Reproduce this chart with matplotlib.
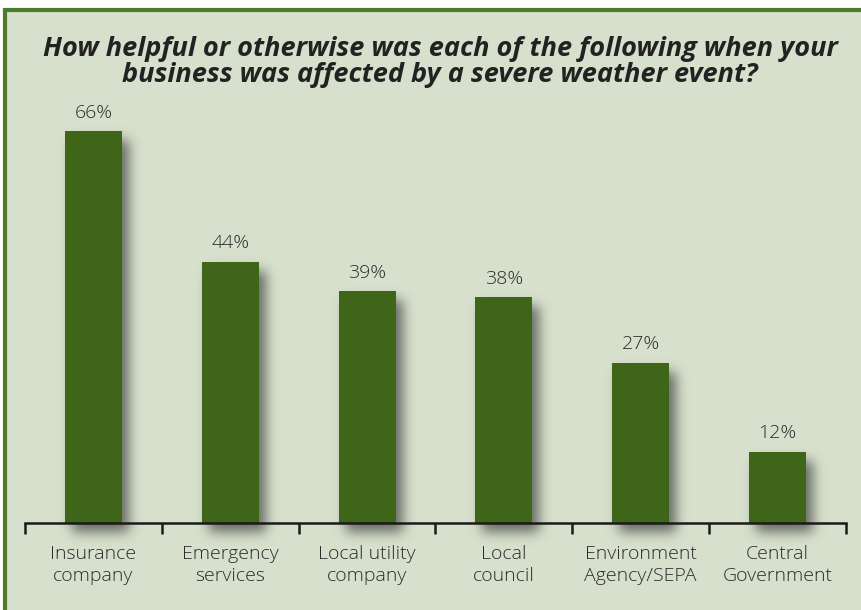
import matplotlib
matplotlib.use("Agg")
import matplotlib.pyplot as plt
from matplotlib.patches import Rectangle
import numpy as np

categories = ["Insurance\ncompany", "Emergency\nservices", "Local utility\ncompany",
              "Local\ncouncil", "Environment\nAgency/SEPA", "Central\nGovernment"]
values = [66, 44, 39, 38, 27, 12]
value_labels = ["66%", "44%", "39%", "38%", "27%", "12%"]
title = "How helpful or otherwise was each of the following when your\nbusiness was affected by a severe weather event?"

W, H = 862, 610
fig = plt.figure(figsize=(W / 100, H / 100), dpi=100, facecolor="white")

bg = "#d7e0cc"
border = "#4e7a2c"
bar_color = "#3f6519"
text_color = "#2b2b2b"

# framed panel
fig.patches.append(Rectangle((5 / W, -0.1), 1.2, (H - 10) / H + 0.1, transform=fig.transFigure,
                             facecolor=bg, edgecolor=border, linewidth=3, zorder=-10))

ax = fig.add_axes([25 / W, (H - 523) / H, (846 - 25) / W, (523 - 107) / H])
ax.set_zorder(2)
ax.set_facecolor("none")
ax.set_xlim(-0.5, 5.5)
ax.set_ylim(0, 70)

x = np.arange(len(values))
bw = 57 / 137.0
bars = ax.bar(x, values, width=bw, color=bar_color, zorder=3)

# soft drop shadow built from bar extents in pixel space
fig.canvas.draw()
mask = np.zeros((H, W))
dx, dy = 7, 9
for b in bars:
    bb = b.get_window_extent()
    x0, x1 = int(round(bb.x0)) + dx, int(round(bb.x1)) + dx
    y0, y1 = int(round(H - bb.y1)) + dy, int(round(H - bb.y0)) + dy
    mask[max(y0, 0):min(y1, H), max(x0, 0):min(x1, W)] = 1.0
sigma = 6.0
r = np.arange(-20, 21)
kern = np.exp(-r ** 2 / (2 * sigma ** 2))
kern /= kern.sum()
mask = np.apply_along_axis(lambda m: np.convolve(m, kern, mode="same"), 1, mask)
mask = np.apply_along_axis(lambda m: np.convolve(m, kern, mode="same"), 0, mask)
rgba = np.zeros((H, W, 4))
rgba[..., 0] = 0.30
rgba[..., 1] = 0.31
rgba[..., 2] = 0.29
rgba[..., 3] = mask * 0.8
sax = fig.add_axes([0, 0, 1, 1], zorder=1)
sax.set_facecolor("none")
sax.imshow(rgba, extent=[0, W, 0, H], origin="upper", interpolation="nearest", aspect="auto")
sax.set_xlim(0, W)
sax.set_ylim(0, H)
sax.axis("off")

for xi, v, lab in zip(x, values, value_labels):
    ax.annotate(lab, (xi, v), xytext=(0, 9.5), textcoords="offset points",
                ha="center", va="baseline", fontsize=14, color=text_color,
                family="Open Sans", fontweight="light", zorder=5)

for s in ["top", "right", "left"]:
    ax.spines[s].set_visible(False)
ax.spines["bottom"].set_linewidth(1.8)
ax.spines["bottom"].set_color("#1a1a1a")
ax.spines["bottom"].set_zorder(6)
ax.set_yticks([])
ax.set_xticks(x)
ax.set_xticklabels(categories, fontsize=14, family="Open Sans", fontweight="light",
                   color=text_color, linespacing=1.3)
ax.tick_params(axis="x", which="major", length=0, pad=16)
ax.set_xticks(np.arange(-0.5, 6.0, 1.0), minor=True)
ax.tick_params(axis="x", which="minor", length=8, width=1.8, color="#1a1a1a", direction="out")

fig.text(440 / W, 1 - 62 / H, title, ha="center", va="center", fontsize=19.5,
         fontweight="bold", fontstyle="italic", family="Open Sans", color="#222222",
         linespacing=0.95)

fig.savefig("out.png", dpi=100, facecolor="white")
